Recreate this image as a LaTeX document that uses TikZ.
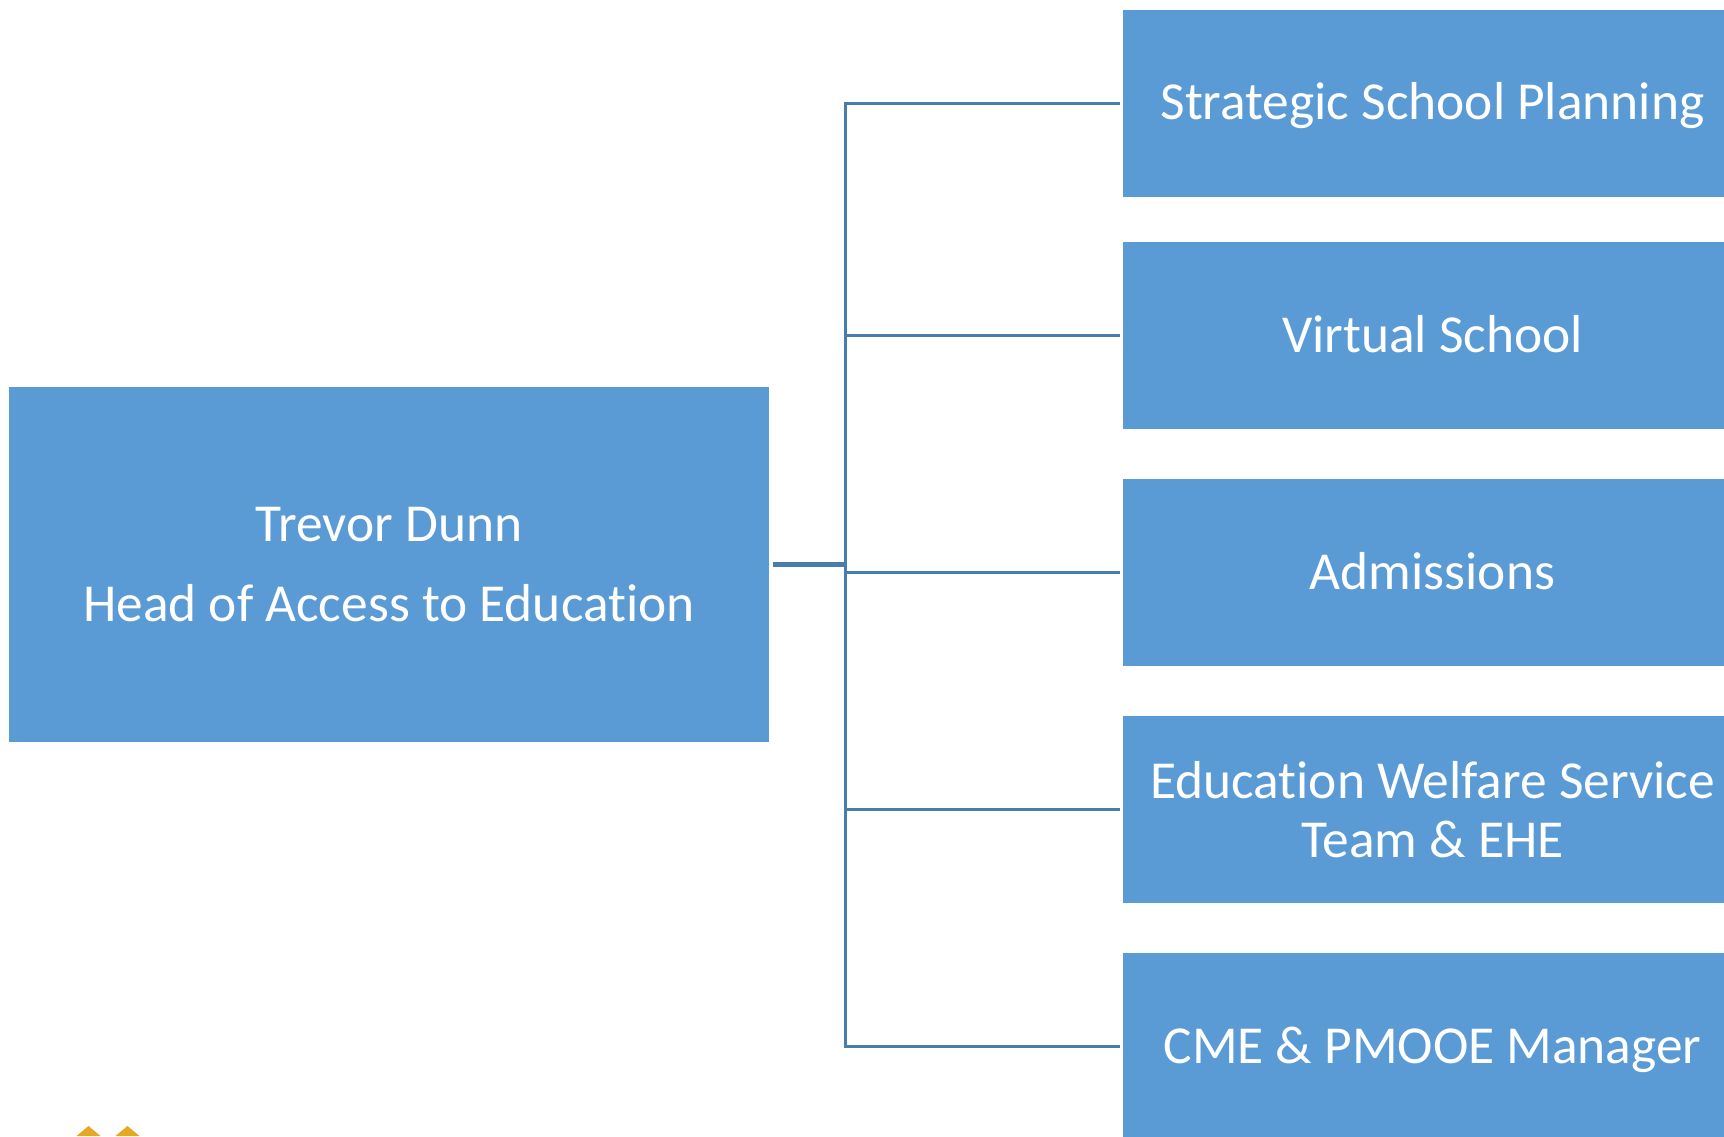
\documentclass[tikz,border=0pt]{standalone}
\usepackage{fontspec}
\setmainfont[Ligatures=NoCommon]{Carlito}
\definecolor{boxblue}{HTML}{5B9BD5}
\definecolor{linkblue}{HTML}{467CAE}
\definecolor{logoorange}{HTML}{E5A823}
\tikzset{
  unit/.style={fill=boxblue,text=white,inner sep=0pt,align=center,font=\fontsize{15.2pt}{16.6pt}\selectfont,minimum width=6.19cm,minimum height=1.87cm},
  single/.style={unit,text height=0.45cm,text depth=0.12cm},
  head/.style={unit,minimum width=7.6cm,minimum height=3.55cm},
  link/.style={draw=linkblue,line width=0.03cm,shorten <=0.02cm},
  stem/.style={draw=linkblue,line width=0.042cm,shorten <=0.03cm}
}
\begin{document}
\begin{tikzpicture}
\useasboundingbox (0,0) rectangle (17.24,11.36);
\clip (0,0) rectangle (17.24,11.36);
\node[head] (dunn) at (3.89,5.715) {Trevor Dunn\\[0.22cm]Head of Access to Education};
\node[single] (planning) at (14.325,10.33) {Strategic School Planning};
\node[single] (virtual) at (14.325,8.005) {Virtual School};
\node[single] (admissions) at (14.325,5.635) {Admissions};
\node[unit] (welfare) at (14.325,3.265) {Education Welfare Service\\Team \& EHE};
\node[single] (manager) at (14.325,0.895) {CME \& PMOOE Manager};
\coordinate (trunk) at (8.45,5.715);
\foreach \n in {planning,virtual,admissions,welfare,manager}{
\draw[link] (\n.west) -| (trunk);
}
\draw[stem] (dunn.east) -- (trunk);
\foreach \x in {0.885,1.275}{
\fill[logoorange] (\x-0.12,0) -- (\x,0.1) -- (\x+0.12,0) -- cycle;
}
\end{tikzpicture}
\end{document}
